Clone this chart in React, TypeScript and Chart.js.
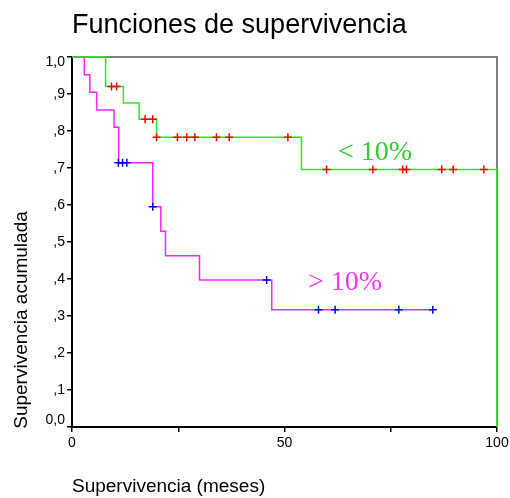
import React, { useEffect, useRef } from "react";
import { Chart, registerables } from "chart.js";
Chart.register(...registerables);

// Kaplan-Meier step points, group < 10%
const lowTimes = [0, 7.9, 12.1, 15.8, 19.9, 54.0, 100];
const lowSurv = [1, 0.92, 0.876, 0.832, 0.783, 0.696, 0];
// censored cases, group < 10%
const lowCensTimes = [9.3, 10.5, 17.2, 19.0, 19.9, 24.8, 27.0, 28.9, 34.0, 37.0, 50.8, 59.9, 70.8, 77.8, 78.7, 87.0, 89.7, 96.9];
const lowCensSurv = [0.92, 0.92, 0.832, 0.832, 0.783, 0.783, 0.783, 0.783, 0.783, 0.783, 0.783, 0.696, 0.696, 0.696, 0.696, 0.696, 0.696, 0.696];

// group > 10%
const highTimes = [0, 2.9, 4.2, 5.8, 9.9, 11.0, 19.0, 20.9, 22.0, 30.0, 47.0, 84.9];
const highSurv = [1, 0.952, 0.905, 0.857, 0.81, 0.714, 0.595, 0.529, 0.463, 0.397, 0.317, 0.317];
const highCensTimes = [10.9, 11.9, 12.9, 19.0, 45.8, 58.0, 61.9, 76.9, 84.9];
const highCensSurv = [0.714, 0.714, 0.714, 0.595, 0.397, 0.317, 0.317, 0.317, 0.317];

const xTickLabels = ["0", "50", "100"];
const yTickLabels = ["0,0", ",1", ",2", ",3", ",4", ",5", ",6", ",7", ",8", ",9", "1,0"];

const titleText = "Funciones de supervivencia";
const xTitle = "Supervivencia (meses)";
const yTitle = "Supervivencia acumulada";
const lowLabel = "< 10%";
const highLabel = "> 10%";

const pts = (xs: number[], ys: number[]) => xs.map((x, i) => ({ x, y: ys[i] }));

export default function App() {
  const ref = useRef<HTMLCanvasElement>(null);
  useEffect(() => {
    const canvas = ref.current!;
    const sans = 'Arial, "Liberation Sans", sans-serif';
    const serif = '"Times New Roman", "Liberation Serif", serif';

    const framePlugin = {
      id: "frame",
      beforeDatasetsDraw(chart: any) {
        const c = chart.ctx;
        const a = chart.chartArea;
        c.save();
        c.strokeStyle = "#555";
        c.lineWidth = 1.5;
        c.beginPath();
        c.moveTo(a.left, a.top);
        c.lineTo(a.right, a.top);
        c.lineTo(a.right, a.bottom);
        c.stroke();
        c.restore();
      },
      afterDraw(chart: any) {
        const c = chart.ctx;
        const a = chart.chartArea;
        const sx = chart.scales.x;
        const sy = chart.scales.y;
        c.save();
        c.fillStyle = "#000";
        c.textBaseline = "alphabetic";
        c.textAlign = "left";
        c.font = `27px ${sans}`;
        c.fillText(titleText, a.left, 33);
        c.font = `19px ${sans}`;
        c.fillText(xTitle, a.left, 492);
        c.save();
        c.translate(27, 320);
        c.rotate(-Math.PI / 2);
        c.textAlign = "center";
        c.fillText(yTitle, 0, 0);
        c.restore();
        // y tick labels (SPSS style: end labels nudged inside the axis range)
        c.font = `14px ${sans}`;
        c.textAlign = "right";
        c.textBaseline = "middle";
        yTickLabels.forEach((lab, i) => {
          const py = sy.getPixelForValue(i / 10);
          const nudge = i === 0 ? -7 : i === yTickLabels.length - 1 ? 5 : 0;
          c.fillText(lab, a.left - 7, py + nudge);
        });
        c.textBaseline = "alphabetic";
        c.textAlign = "left";
        c.font = `28px ${serif}`;
        c.fillStyle = "#33cc33";
        c.fillText(lowLabel, sx.getPixelForValue(62.6), sy.getPixelForValue(0.722));
        c.fillStyle = "#ff33ff";
        c.fillText(highLabel, sx.getPixelForValue(55.5), sy.getPixelForValue(0.37));
        c.restore();
      },
    };

    const chart = new Chart(canvas, {
      type: "scatter",
      data: {
        datasets: [
          {
            data: pts(lowCensTimes, lowCensSurv),
            pointStyle: "cross",
            pointRadius: 4,
            pointBorderWidth: 1.5,
            pointBorderColor: "#ff0000",
            borderColor: "#ff0000",
            showLine: false,
            order: 0,
            clip: false,
          } as any,
          {
            data: pts(highCensTimes, highCensSurv),
            pointStyle: "cross",
            pointRadius: 4,
            pointBorderWidth: 1.5,
            pointBorderColor: "#0000ff",
            borderColor: "#0000ff",
            showLine: false,
            order: 0,
            clip: false,
          } as any,
          {
            data: pts(lowTimes, lowSurv),
            showLine: true,
            stepped: "before",
            borderColor: "#22ee22",
            borderWidth: 1.5,
            pointRadius: 0,
            order: 1,
            clip: false,
          } as any,
          {
            data: pts(highTimes, highSurv),
            showLine: true,
            stepped: "before",
            borderColor: "#ff22ff",
            borderWidth: 1.5,
            pointRadius: 0,
            order: 2,
            clip: false,
          } as any,
        ],
      },
      options: {
        responsive: false,
        animation: false,
        layout: { padding: { top: 57, right: 13, left: 0, bottom: 0 } },
        plugins: { legend: { display: false }, tooltip: { enabled: false }, title: { display: false } },
        scales: {
          x: {
            type: "linear",
            min: 0,
            max: 100,
            afterFit: (s: any) => {
              s.height = 71;
              s.paddingLeft = 0;
              s.paddingRight = 0;
            },
            ticks: {
              stepSize: 25,
              autoSkip: false,
              maxRotation: 0,
              padding: 3,
              color: "#000",
              font: { family: sans, size: 14 },
              callback: (v: any) => {
                const i = xTickLabels.indexOf(String(Math.round(v)));
                return i >= 0 ? xTickLabels[i] : "";
              },
            },
            grid: { drawOnChartArea: false, drawTicks: true, tickLength: 5, color: "#000", lineWidth: 1.5 },
            border: { color: "#000", width: 2 },
          },
          y: {
            type: "linear",
            min: 0,
            max: 1,
            afterFit: (s: any) => {
              s.width = 72;
              s.paddingTop = 0;
              s.paddingBottom = 0;
            },
            ticks: {
              stepSize: 0.1,
              autoSkip: false,
              padding: 3,
              color: "rgba(0,0,0,0)",
              font: { family: sans, size: 14 },
              callback: (v: any) => yTickLabels[Math.round(Number(v) * 10)] ?? "",
            },
            grid: { drawOnChartArea: false, drawTicks: true, tickLength: 5, color: "#000", lineWidth: 1.5 },
            border: { color: "#000", width: 2 },
          },
        },
      },
      plugins: [framePlugin],
    });
    return () => chart.destroy();
  }, []);

  return (
    <div style={{ position: "fixed", left: 0, top: 0, width: 510, height: 498, background: "#fff" }}>
      <canvas ref={ref} width={510} height={498} style={{ display: "block", width: 510, height: 498 }} />
    </div>
  );
}
